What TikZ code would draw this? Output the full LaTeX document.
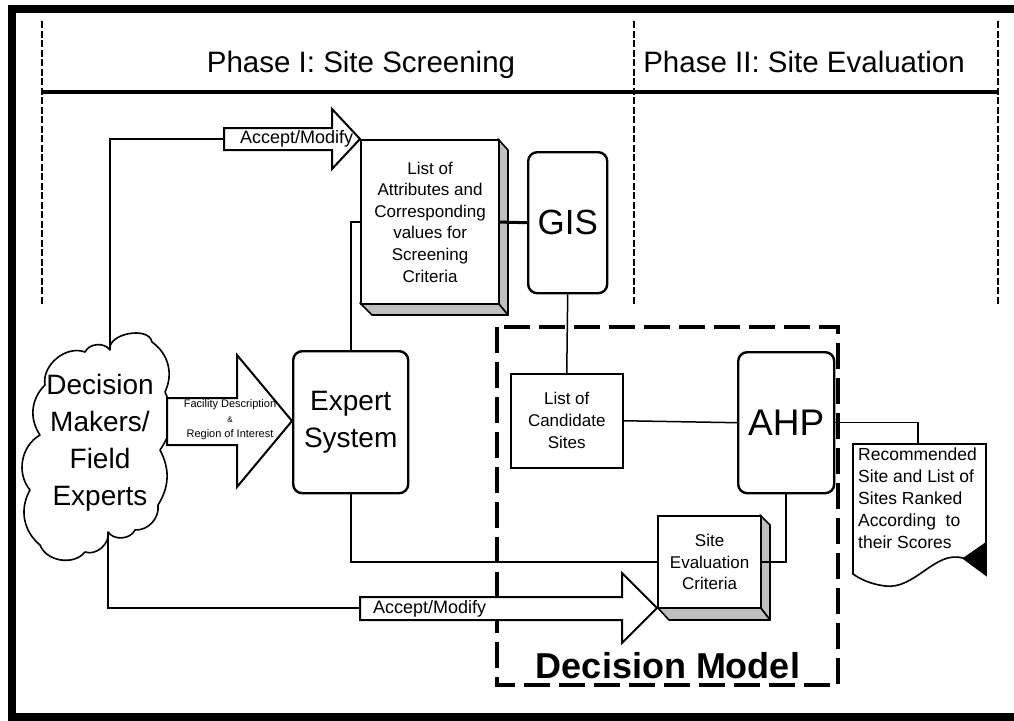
\documentclass[tikz,border=0pt]{standalone}
\usepackage{fontspec}
\setmainfont{Liberation Sans}
\usetikzlibrary{calc}
\begin{document}
\begin{tikzpicture}[x=1pt,y=-1pt,
  frameline/.style={line width=8},
  phasedash/.style={line width=1.8, dash pattern=on 7pt off 2.5pt},
  modeldash/.style={line width=4.5, dash pattern=on 26pt off 9pt},
  link/.style={line width=1.5},
  heavylink/.style={line width=2.4},
  blockarrow/.style={draw, fill=white, line width=2, line join=miter},
  roundbox/.style={draw, line width=2.4, rounded corners=9pt, inner sep=0pt, anchor=north west, align=center},
  plainbox/.style={draw, line width=1.5, inner sep=0pt, anchor=north west, align=center},
  frontface/.style={draw, line width=2.2, fill=white, inner sep=0pt, anchor=north west, align=center},
  sideface/.style={draw, line width=1.6, fill=black!25, line join=round},
  boxtext/.style={font=\fontsize{17}{21.6}\selectfont},
  bigtext/.style={font=\fontsize{28}{37}\selectfont},
  phasetext/.style={font=\fontsize{29.5}{34}\selectfont, anchor=base},
  arrowlabel/.style={font=\fontsize{18}{20}\selectfont, inner sep=0pt},
  cloudline/.style={line width=1.6, line join=round}
]
\useasboundingbox (0,0) rectangle (1014,720);
\fill[white] (0,0) rectangle (1014,720);

% outer frame
\draw[frameline] (12,9) -- (1022,9);
\draw[frameline] (12,5) -- (12,724);
\draw[frameline] (8,717) -- (1022,717);

% phase header
\draw[phasedash] (42,21) -- (42,304);
\draw[phasedash] (634,21) -- (634,304);
\draw[phasedash] (998,21) -- (998,304);
\draw[line width=3.5] (42,92) -- (998,92);
\node[phasetext] (ph1) at (361,72) {Phase I: Site Screening};
\node[phasetext] (ph2) at (804,72) {Phase II: Site Evaluation};

% decision model frame
\draw[modeldash] (497,327) rectangle (838,685);
\node[font=\fontsize{36}{40}\selectfont\bfseries, anchor=base] (dmtitle) at (668,678) {Decision Model};

% stakeholders cloud
\draw[cloudline] (110,350) to[bend left=90] (152,342) to[bend left=40] (165,392)
  to[bend left=30] (160,450) to[bend left=30] (158,505) to[bend left=50] (135,530)
  to[bend left=60] (108,532) to[bend left=60] (85,552) to[bend left=60] (40,545)
  to[bend left=40] (30,490) to[bend left=50] (40,435) to[bend left=40] (45,385)
  to[bend left=60] (85,352) to[bend left=60] (110,350) -- cycle;
\node[bigtext, align=center] (dm) at (100,443) {Decision\\Makers/\\Field\\Experts};
\coordinate (dmtop) at (110,350);
\coordinate (dmbot) at (108,532);

% block arrows
\draw[blockarrow] (224,128) -- (332,128) -- (332,109) -- (360,139) -- (332,169) -- (332,150) -- (224,150) -- cycle;
\coordinate (acc1) at (224,139);
\node[arrowlabel, anchor=west] (acc1lbl) at (240,139) {Accept/Modify};

\draw[blockarrow] (167,398) -- (237,398) -- (237,355) -- (292,421) -- (237,487) -- (237,445) -- (167,445) -- cycle;
\node[align=center, inner sep=0pt, font=\fontsize{11}{15}\selectfont] (fac) at (230,420)
  {Facility Description\\{\fontsize{8}{10}\selectfont \&}\\Region of Interest};

\draw[blockarrow] (360,597) -- (622,597) -- (622,573) -- (657,608) -- (622,643) -- (622,620) -- (360,620) -- cycle;
\coordinate (acc2) at (360,608);
\node[arrowlabel, anchor=west] (acc2lbl) at (373,609) {Accept/Modify};

% attribute list (raised box)
\fill[white] (360,139) rectangle (498,303);
\draw[sideface] (498,139) -- (508,150) -- (508,315) -- (498,303) -- cycle;
\draw[sideface] (360,303) -- (498,303) -- (508,315) -- (372,315) -- cycle;
\node[frontface, boxtext, minimum width=138, minimum height=164] (attr) at (360,139)
  {List of\\Attributes and\\Corresponding\\values for\\Screening\\Criteria};

% evaluation criteria (raised box)
\draw[sideface] (760,515) -- (770,525) -- (770,620) -- (760,607) -- cycle;
\draw[sideface] (657,607) -- (760,607) -- (770,620) -- (669,620) -- cycle;
\node[frontface, boxtext, minimum width=103, minimum height=92] (eval) at (657,515)
  {Site\\Evaluation\\Criteria};

% processing blocks
\node[roundbox, font=\fontsize{35}{40}\selectfont, minimum width=79, minimum height=141] (gis) at (527,151) {GIS};
\node[roundbox, bigtext, minimum width=115, minimum height=142] (expert) at (292,350) {Expert\\System};
\node[roundbox, font=\fontsize{37}{40}\selectfont, minimum width=96, minimum height=141] (ahp) at (737,351) {AHP};
\node[plainbox, boxtext, font=\fontsize{17}{22}\selectfont, minimum width=112, minimum height=94] (cand) at (510,373)
  {List of\\Candidate\\Sites};

% result document
\draw[line width=1.6, fill=white] (853,444) -- (986,444) -- (986,575) -- (963,558)
  .. controls (935,550) and (915,590) .. (885,586) .. controls (870,584) and (860,579) .. (853,574) -- cycle;
\fill[black] (963,558) -- (986,542) -- (986,575) -- cycle;
\node[anchor=north west, align=left, inner sep=0pt, font=\fontsize{17.5}{22}\selectfont] (doc) at (858,448)
  {Recommended\\Site and List of\\Sites Ranked\\According\ \ to\\their Scores};
\coordinate (doctop) at (918,444);

% connectors
\draw[heavylink] (dmtop) |- (acc1);
\draw[heavylink] (dmbot) |- (acc2);
\draw[line width=2] (expert.north) |- (attr.west);
\draw[line width=3] (attr.east) -- (gis.west);
\draw[link] (gis.south) -- (cand.north);
\draw[link] (cand.east) -- (ahp.west);
\draw[link] (ahp.east) -| (doctop);
\draw[link] (ahp.south) |- (eval.east);
\draw[heavylink] (expert.south) |- (eval.west);
\end{tikzpicture}
\end{document}
